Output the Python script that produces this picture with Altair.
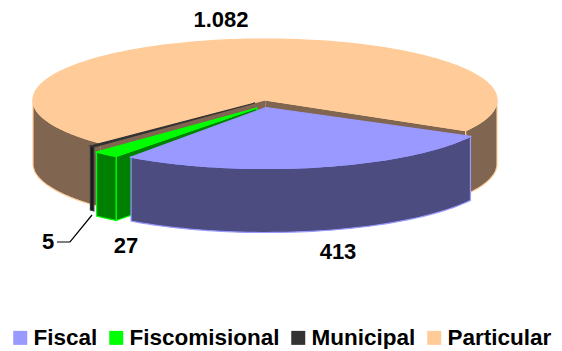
import math
import altair as alt
import pandas as pd

categories = ["Fiscal", "Fiscomisional", "Municipal", "Particular"]
values = [413, 27, 5, 1082]
value_labels = ["413", "27", "5", "1.082"]
top_colors = ["#9999FF", "#00FF00", "#333333", "#FFCC99"]
side_colors = ["#4C4C80", "#008000", "#1A1A1A", "#806650"]
start_angles = [28.2, 127.4, 134.0, 135.0]
centers = [(266, 107.5), (257, 108), (255, 103), (265, 100)]

RX, RY, DEPTH = 232, 61, 64
W, H = 546, 341
total = sum(values)
X = alt.X("x:Q", scale=alt.Scale(domain=[8, 8 + W]), axis=None)
Y = alt.Y("y:Q", scale=alt.Scale(domain=[8 + H, 8]), axis=None)


def pt(c, t, drop=0):
    r = math.radians(t)
    return (c[0] + RX * math.cos(r), c[1] + RY * math.sin(r) + drop)


def arc(c, a, b, drop=0, n=60):
    return [pt(c, a + (b - a) * i / n, drop) for i in range(n + 1)]


def poly(points, fill, stroke, sw=1.2):
    pts = list(points) + [points[0]]
    df = pd.DataFrame({"x": [p[0] for p in pts], "y": [p[1] for p in pts], "i": range(len(pts))})
    return alt.Chart(df).mark_line(fill=fill, stroke=stroke, strokeWidth=sw).encode(x=X, y=Y, order="i:Q")


def side(c, a, b, fill, stroke):
    return poly(arc(c, a, b) + arc(c, b, a, DEPTH), fill, stroke)


def cut(c, t, fill, stroke):
    p = pt(c, t)
    return poly([c, p, (p[0], p[1] + DEPTH), (c[0], c[1] + DEPTH)], fill, stroke)


spans = [v / total * 360 for v in values]
layers = []

# Particular
s, e = start_angles[3], start_angles[3] + spans[3]
c = centers[3]
end_t = e - 360
layers.append(side(c, s, 180, side_colors[3], top_colors[3]))
layers.append(cut(c, end_t, side_colors[3], top_colors[3]))
layers.append(cut(c, s, side_colors[3], side_colors[3]))
layers.append(side(c, 0, end_t, side_colors[3], top_colors[3]))
layers.append(poly([c] + arc(c, s, e, n=200), top_colors[3], top_colors[3]))

# Municipal
s, e = start_angles[2], start_angles[2] + spans[2]
c = centers[2]
layers.append(side(c, s, e, side_colors[2], top_colors[2]))
layers.append(poly([c] + arc(c, s, e), top_colors[2], top_colors[2]))

# Fiscomisional
s, e = start_angles[1], start_angles[1] + spans[1]
c = centers[1]
layers.append(cut(c, s, side_colors[1], top_colors[1]))
layers.append(side(c, s, e, side_colors[1], top_colors[1]))
layers.append(poly([c] + arc(c, s, e), top_colors[1], top_colors[1]))

# Fiscal
s, e = start_angles[0], start_angles[0] + spans[0]
c = centers[0]
layers.append(side(c, s, e, side_colors[0], top_colors[0]))
layers.append(poly([c] + arc(c, s, e), top_colors[0], top_colors[0]))

# Leader line for the value 5
leader = pd.DataFrame({"x": [92, 70, 57], "y": [215, 242, 242], "i": [0, 1, 2]})
layers.append(alt.Chart(leader).mark_line(color="#000000", strokeWidth=1.2).encode(x=X, y=Y, order="i:Q"))

# Value labels
labels = pd.DataFrame({"t": value_labels, "x": [338, 126, 48, 221], "y": [252, 246, 242, 20]})
layers.append(alt.Chart(labels).mark_text(font="Liberation Sans", fontWeight="bold", fontSize=22, color="#000000").encode(
    x=X, y=Y, text="t:N",
))

# Legend carrier
leg = pd.DataFrame({"Category": categories, "x": [100] * 4, "y": [100] * 4})
layers.append(alt.Chart(leg).mark_point(opacity=0, filled=True, shape="square").encode(
    x=X, y=Y,
    color=alt.Color(
        "Category:N",
        scale=alt.Scale(domain=categories, range=top_colors),
        legend=alt.Legend(
            title=None, orient="none", legendX=1, legendY=318.5, direction="horizontal", columns=4,
            symbolType="square", symbolSize=196, symbolOpacity=1, symbolStrokeWidth=0,
            labelFont="Liberation Sans", labelFontWeight="bold", labelFontSize=22.5, labelColor="#000000",
            columnPadding=7, labelOffset=2, labelLimit=200,
        ),
    ),
))

chart = alt.layer(*layers).properties(
    width=W, height=H, padding=0, background="#FFFFFF",
    autosize=alt.AutoSizeParams(type="none"),
).configure_view(stroke=None)
chart.save("out.html", embed_options={"renderer": "svg", "actions": False})
